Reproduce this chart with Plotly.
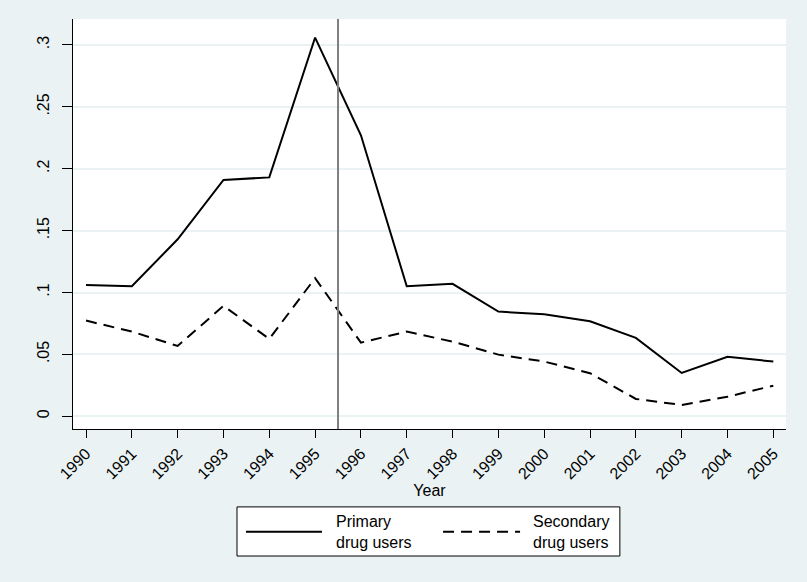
import plotly.graph_objects as go

years = list(range(1990, 2006))
primary = [0.106, 0.105, 0.143, 0.191, 0.193, 0.306, 0.227, 0.105, 0.107, 0.0846,
           0.0824, 0.0768, 0.0633, 0.035, 0.048, 0.0442]
secondary = [0.0773, 0.0684, 0.0568, 0.0892, 0.0625, 0.1116, 0.0595, 0.0684, 0.0603, 0.0498,
             0.0442, 0.0348, 0.014, 0.0091, 0.0158, 0.0247]
event_year = 1995.5
y_tickvals = [0, 0.05, 0.1, 0.15, 0.2, 0.25, 0.3]
y_ticktext = ["0", ".05", ".1", ".15", ".2", ".25", ".3"]
series_names = ["Primary<br>drug users", "Secondary<br>drug users"]

BG = "#EAF2F3"
FONT = "Liberation Sans, Arial, sans-serif"

fig = go.Figure()
fig.add_trace(go.Scatter(x=years, y=primary, mode="lines", name=series_names[0],
                         line=dict(color="black", width=2), showlegend=False))
fig.add_trace(go.Scatter(x=years, y=secondary, mode="lines", name=series_names[1],
                         line=dict(color="black", width=2, dash="11px,7px"), showlegend=False))

fig.add_shape(type="line", xref="x", yref="paper", x0=event_year, x1=event_year, y0=0, y1=1,
              line=dict(color="#7f7f7f", width=2))

# Legend drawn manually (Stata style)
fig.add_shape(type="rect", xref="paper", yref="paper", x0=0.230, x1=0.767, y0=-0.3098, y1=-0.190,
              line=dict(color="black", width=1), fillcolor="white", layer="above")
fig.add_shape(type="line", xref="paper", yref="paper", x0=0.2426, x1=0.3492, y0=-0.2504, y1=-0.2504,
              line=dict(color="black", width=2))
fig.add_shape(type="line", xref="paper", yref="paper", x0=0.519, x1=0.627, y0=-0.2504, y1=-0.2504,
              line=dict(color="black", width=2, dash="11px,7px"))
fig.add_annotation(xref="paper", yref="paper", x=0.3655, y=-0.2504, text=series_names[0],
                   showarrow=False, xanchor="left", yanchor="middle", align="left",
                   font=dict(family=FONT, size=16, color="black"))
fig.add_annotation(xref="paper", yref="paper", x=0.642, y=-0.2504, text=series_names[1],
                   showarrow=False, xanchor="left", yanchor="middle", align="left",
                   font=dict(family=FONT, size=16, color="black"))

fig.update_layout(
    width=807, height=582,
    margin=dict(l=73, r=21, t=19, b=153),
    paper_bgcolor=BG, plot_bgcolor="white",
    font=dict(family=FONT, size=16, color="black"),
    showlegend=False,
    xaxis=dict(range=[1989.716, 2005.277], tickvals=years, ticktext=[str(y) for y in years],
               tickangle=-45, ticks="outside", ticklen=8, tickwidth=1, tickcolor="black",
               showline=True, linecolor="black", linewidth=1.3, showgrid=False, zeroline=False,
               title=dict(text="Year", standoff=0, font=dict(size=16))),
    yaxis=dict(range=[-0.0103, 0.321], tickvals=y_tickvals, ticktext=y_ticktext,
               tickangle=-90, ticks="outside", ticklen=10, tickwidth=1, tickcolor="black",
               showline=True, linecolor="black", linewidth=1.3, showgrid=True,
               gridcolor=BG, gridwidth=2, zeroline=False, ticklabelstandoff=6),
)

fig.write_html("out.html", config={"displayModeBar": False},
               post_script="document.body.style.margin='0';")
